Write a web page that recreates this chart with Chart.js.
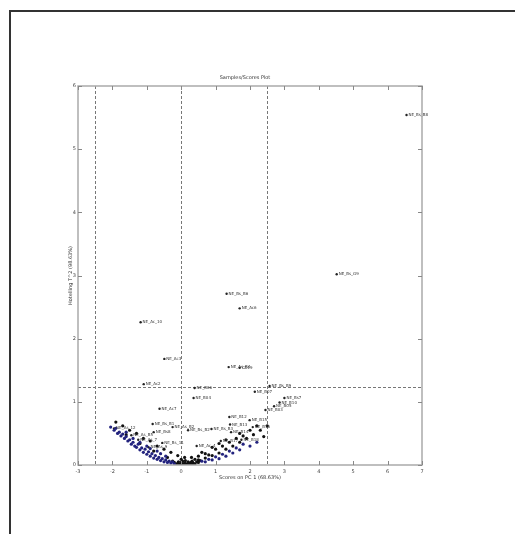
<!DOCTYPE html>
<html>
<head>
<meta charset="utf-8">
<script src="https://cdn.jsdelivr.net/npm/chart.js@4.4.1/dist/chart.umd.min.js"></script>
<style>
  body { margin: 0; background: #fff; }
  #frame { position: absolute; left: 9px; top: 10px; width: 600px; height: 600px;
           border-top: 2px solid #333; border-left: 2px solid #333; }
  canvas { position: absolute; left: 0; top: 0; }
</style>
</head>
<body>
<div id="frame"></div>
<canvas id="plot" width="515" height="534"></canvas>
<script>
// confidence limits (score units / T^2 units)
const xLimits = [-2.5, 0, 2.5];
const yLimits = [1.23];
const xTicks = [-3, -2, -1, 0, 1, 2, 3, 4, 5, 6, 7];
const yTicks = [0, 1, 2, 3, 4, 5, 6];

// class 1 samples (blue)
const blueX = [-2.05,-1.95,-1.9,-1.85,-1.8,-1.75,-1.7,-1.65,-1.6,-1.55,-1.5,-1.45,-1.4,-1.35,-1.3,-1.25,-1.2,-1.15,-1.1,-1.05,-1.0,-0.95,-0.9,-0.85,-0.8,-0.75,-0.7,-0.65,-0.6,-0.55,-0.5,-0.45,-0.4,-0.35,-0.3,-0.25,-0.2,0.6,0.8,1.0,1.2,1.4,1.6,1.8,-1.6,-1.2,-0.9,-0.6,
  -1.4,-1.0,-0.7,-0.45,0.7,0.9,1.1,1.3,1.5,1.7,2.0,2.2];
const blueY = [0.60,0.55,0.58,0.50,0.52,0.46,0.49,0.42,0.45,0.38,0.40,0.33,0.36,0.30,0.28,0.33,0.24,0.27,0.20,0.25,0.17,0.21,0.14,0.18,0.11,0.15,0.09,0.12,0.07,0.10,0.05,0.08,0.04,0.06,0.03,0.05,0.02,0.06,0.09,0.13,0.17,0.22,0.27,0.33,0.52,0.36,0.26,0.18,
  0.42,0.30,0.22,0.14,0.05,0.08,0.10,0.14,0.19,0.24,0.30,0.36];

// class 2 samples (black)
const blackX = [-0.15,-0.1,-0.05,0,0.05,0.1,0.15,0.2,0.25,0.3,0.35,0.4,-0.2,0,0.2,0.45,-0.1,0.1,0.3,
  -0.12,-0.02,0.08,0.18,0.28,0.38,-0.08,0.04,0.12,0.22,0.32,0.5,0.55,-0.25,
  -1.9,-1.7,-1.5,-1.3,-1.1,-0.9,-0.7,-0.5,-0.3,-0.1,0.1,0.3,0.5,0.7,
  0.5,0.7,0.9,1.1,1.3,1.5,1.7,1.9,2.1,2.3,2.5,1.0,1.2,1.4,1.6,1.8,2.0,2.2,0.6,0.9,1.1,
  -1.6,-1.2,-0.8,-0.4,0.0,0.4,0.8,1.3,1.7,2.4];
const blackY = [0.01,0.02,0.01,0.01,0.02,0.01,0.02,0.01,0.03,0.02,0.03,0.02,0.04,0.04,0.05,0.05,0.03,0.03,0.05,
  0.00,0.00,0.00,0.00,0.01,0.01,0.05,0.06,0.07,0.03,0.06,0.04,0.07,0.06,
  0.68,0.62,0.55,0.50,0.42,0.38,0.30,0.25,0.20,0.15,0.12,0.12,0.14,0.18,
  0.08,0.11,0.15,0.19,0.25,0.30,0.36,0.42,0.48,0.55,0.62,0.25,0.30,0.36,0.42,0.46,0.55,0.62,0.20,0.28,0.34,
  0.48,0.34,0.22,0.12,0.09,0.09,0.16,0.40,0.50,0.45];

// labelled samples
const labNames = ['NE_Bs_B8','NE_Bs_G9','NE_Ac_10','NE_Bs_B6','NE_Ac6','NE_Ac3','NE_As_B4','CD19','NE_Ac2',
  'NE_B06','NE_B04','NE_B07','NE_Bs_B9','NE_Bs7','NE_B10','NE_B05','NE_B03','NE_Ac7','NE_Bs_B1',
  'NE_B12','NE_B13','NE_B14','NE_B15','NE_B16','NE_As_B2','NE_Bs_B3','NE_As_12','NE_Bs8','NE_As_B5','NE_Bs_B2',
  'NE_As_7','NE_Bs_11','NE_Ac_4','NE_B17','NE_B18','NE_As_9'];
const labX = [6.55,4.52,-1.18,1.32,1.70,-0.49,1.38,1.70,-1.09,
  0.39,0.36,2.14,2.57,3.00,2.86,2.70,2.45,-0.63,-0.83,
  1.40,1.42,1.45,1.99,2.08,-0.25,0.88,-1.95,-0.80,-1.45,0.20,
  -1.25,-0.55,0.45,1.15,1.75,-0.95];
const labY = [5.54,3.02,2.26,2.71,2.48,1.68,1.55,1.54,1.28,
  1.22,1.06,1.16,1.25,1.06,0.99,0.93,0.87,0.89,0.65,
  0.76,0.64,0.52,0.71,0.60,0.60,0.57,0.58,0.52,0.47,0.55,
  0.40,0.35,0.30,0.38,0.40,0.28];

const pts = (xs, ys) => xs.map((x, i) => ({ x: x, y: ys[i] }));

const overlay = {
  id: 'overlay',
  beforeDatasetsDraw(chart) {
    const { ctx, chartArea: a, scales: { x, y } } = chart;
    ctx.save();
    ctx.strokeStyle = '#777';
    ctx.lineWidth = 1;
    ctx.setLineDash([3, 2]);
    xLimits.forEach(v => {
      const px = Math.round(x.getPixelForValue(v)) + 0.5;
      ctx.beginPath(); ctx.moveTo(px, a.top); ctx.lineTo(px, a.bottom); ctx.stroke();
    });
    yLimits.forEach(v => {
      const py = Math.round(y.getPixelForValue(v)) + 0.5;
      ctx.beginPath(); ctx.moveTo(a.left, py); ctx.lineTo(a.right, py); ctx.stroke();
    });
    ctx.restore();
  },
  afterDatasetsDraw(chart) {
    const { ctx, scales: { x, y } } = chart;
    ctx.save();
    ctx.fillStyle = '#333';
    ctx.font = '4px "DejaVu Sans"';
    ctx.textBaseline = 'middle';
    labNames.forEach((n, i) => {
      ctx.fillText(n, x.getPixelForValue(labX[i]) + 2, y.getPixelForValue(labY[i]));
    });
    ctx.restore();
  },
  afterDraw(chart) {
    const { ctx, chartArea: a, scales: { x, y } } = chart;
    ctx.save();
    ctx.strokeStyle = '#aaa';
    ctx.lineWidth = 1.5;
    ctx.strokeRect(a.left, a.top, a.right - a.left, a.bottom - a.top);
    ctx.strokeStyle = '#888';
    ctx.lineWidth = 1;
    xTicks.forEach(v => {
      const px = Math.round(x.getPixelForValue(v)) + 0.5;
      ctx.beginPath(); ctx.moveTo(px, a.top); ctx.lineTo(px, a.top + 4); ctx.stroke();
      ctx.beginPath(); ctx.moveTo(px, a.bottom); ctx.lineTo(px, a.bottom - 4); ctx.stroke();
    });
    yTicks.forEach(v => {
      const py = Math.round(y.getPixelForValue(v)) + 0.5;
      ctx.beginPath(); ctx.moveTo(a.left, py); ctx.lineTo(a.left + 4, py); ctx.stroke();
      ctx.beginPath(); ctx.moveTo(a.right, py); ctx.lineTo(a.right - 4, py); ctx.stroke();
    });
    ctx.restore();
  }
};

new Chart(document.getElementById('plot').getContext('2d'), {
  type: 'scatter',
  data: {
    datasets: [
      { label: 'Class 1', data: pts(blueX, blueY), backgroundColor: '#23237e', borderColor: '#23237e', pointRadius: 1.6, borderWidth: 0 },
      { label: 'Class 2', data: pts(blackX, blackY), backgroundColor: '#111', borderColor: '#111', pointRadius: 1.6, borderWidth: 0 },
      { label: 'Labelled', data: pts(labX, labY), backgroundColor: '#222', borderColor: '#222', pointRadius: 1.2, borderWidth: 0 }
    ]
  },
  options: {
    responsive: false, animation: false, devicePixelRatio: 1,
    layout: { padding: { left: 68, right: 93, top: 0, bottom: 51 } },
    plugins: {
      legend: { display: false },
      tooltip: { enabled: false },
      title: { display: true, text: 'Samples/Scores Plot', color: '#333',
               font: { size: 5, family: 'DejaVu Sans', weight: 'normal' }, padding: { top: 75, bottom: 5 } }
    },
    scales: {
      x: {
        type: 'linear', min: -3, max: 7,
        afterBuildTicks: s => { s.ticks = xTicks.map(v => ({ value: v })); },
        afterFit: s => { s.height = 18; },
        grid: { display: false, drawTicks: false, tickLength: 0 }, border: { display: false },
        ticks: { font: { size: 5, family: 'DejaVu Sans' }, color: '#444', padding: 4 },
        title: { display: true, text: 'Scores on PC 1 (68.63%)', color: '#333',
                 font: { size: 5, family: 'DejaVu Sans' }, padding: { top: 2, bottom: 2 } }
      },
      y: {
        type: 'linear', min: 0, max: 6,
        afterBuildTicks: s => { s.ticks = yTicks.map(v => ({ value: v })); },
        afterFit: s => { s.width = 10; },
        grid: { display: false, drawTicks: false, tickLength: 0 }, border: { display: false },
        ticks: { font: { size: 5, family: 'DejaVu Sans' }, color: '#444', padding: 2 },
        title: { display: true, text: 'Hotelling T^2 (98.63%)', color: '#333',
                 font: { size: 5, family: 'DejaVu Sans' }, padding: { top: 0, bottom: 0 } }
      }
    }
  },
  plugins: [overlay]
});
</script>
</body>
</html>
